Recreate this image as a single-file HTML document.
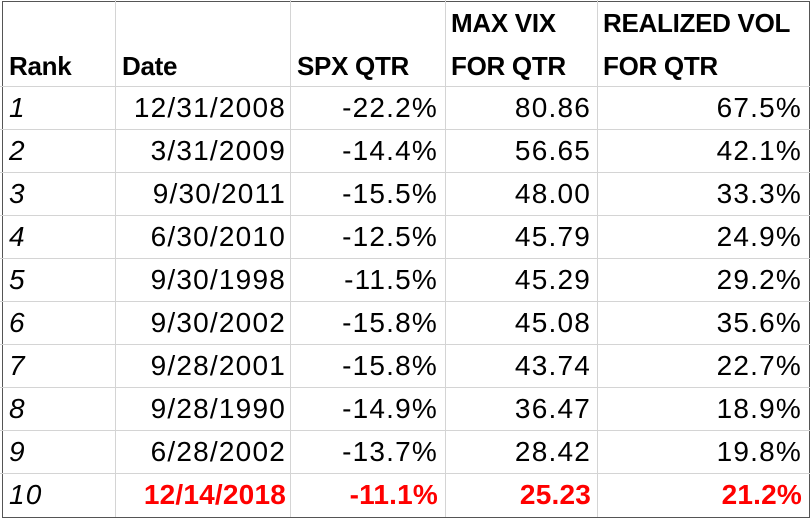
<!DOCTYPE html>
<html><head><style>
body{margin:0;width:812px;height:519px;background:#fff;overflow:hidden;position:relative;font-family:"Liberation Sans",sans-serif;}
.t{position:absolute;font-size:28px;line-height:43px;white-space:nowrap;color:#000;letter-spacing:1.2px}
.b{font-weight:bold;letter-spacing:-0.3px;font-size:26px}
.r{text-align:right}
.i{font-style:italic}
.red{color:#f00;font-weight:bold;letter-spacing:0.2px}
.v{position:absolute;top:0;height:517px;width:1px;background:#d4d4d4}
.h{position:absolute;left:0;width:810px;height:1px;background:#d4d4d4}
</style></head><body>
<div style="position:absolute;left:2px;top:1px;width:806px;height:515px;border:1px solid #555;"></div>
<div class="v" style="left:115px"></div>
<div class="v" style="left:290px"></div>
<div class="v" style="left:445px"></div>
<div class="v" style="left:597px"></div>
<div class="h" style="top:86px"></div><div class="h" style="top:129px"></div><div class="h" style="top:172px"></div><div class="h" style="top:215px"></div><div class="h" style="top:258px"></div><div class="h" style="top:301px"></div><div class="h" style="top:344px"></div><div class="h" style="top:387px"></div><div class="h" style="top:430px"></div><div class="h" style="top:473px"></div>
<div class="t b" style="left:9px;top:45px">Rank</div>
<div class="t b" style="left:122px;top:45px">Date</div>
<div class="t b" style="left:297px;top:45px">SPX QTR</div>
<div class="t b" style="left:451px;top:2px">MAX VIX</div>
<div class="t b" style="left:451px;top:45px">FOR QTR</div>
<div class="t b" style="left:603px;top:2px">REALIZED VOL</div>
<div class="t b" style="left:603px;top:45px">FOR QTR</div>
<div id="rows"></div>
<script>
var d=[["1","12/31/2008","-22.2%","80.86","67.5%"],["2","3/31/2009","-14.4%","56.65","42.1%"],["3","9/30/2011","-15.5%","48.00","33.3%"],["4","6/30/2010","-12.5%","45.79","24.9%"],["5","9/30/1998","-11.5%","45.29","29.2%"],["6","9/30/2002","-15.8%","45.08","35.6%"],["7","9/28/2001","-15.8%","43.74","22.7%"],["8","9/28/1990","-14.9%","36.47","18.9%"],["9","6/28/2002","-13.7%","28.42","19.8%"],["10","12/14/2018","-11.1%","25.23","21.2%"]];
var h="";
d.forEach(function(r,k){var y=86+k*43,c=k==9?" red":"";
h+='<div class="t i" style="left:9px;top:'+y+'px">'+r[0]+'</div>';
h+='<div class="t r'+c+'" style="right:526px;top:'+y+'px">'+r[1]+'</div>';
h+='<div class="t r'+c+'" style="right:374px;top:'+y+'px">'+r[2]+'</div>';
h+='<div class="t r'+c+'" style="right:221px;top:'+y+'px">'+r[3]+'</div>';
h+='<div class="t r'+c+'" style="right:10px;top:'+y+'px">'+r[4]+'</div>';});
document.getElementById("rows").innerHTML=h;
</script>
</body></html>
